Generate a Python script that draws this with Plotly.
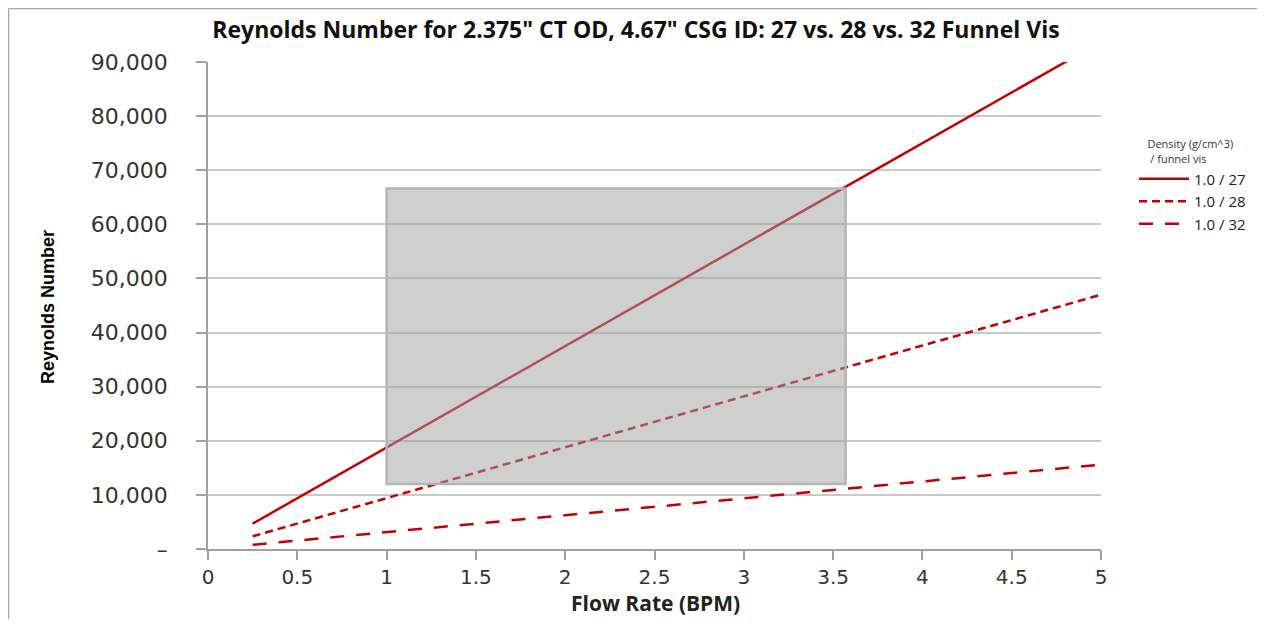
import plotly.graph_objects as go

# ---- data ----
flow_rate = [0.25, 0.5, 0.75, 1.0, 1.25, 1.5, 1.75, 2.0, 2.25, 2.5,
             2.75, 3.0, 3.25, 3.5, 3.75, 4.0, 4.25, 4.5, 4.75, 5.0]
re_27 = [4690, 9380, 14060, 18750, 23440, 28130, 32810, 37500, 42190, 46880,
         51560, 56250, 60940, 65630, 70310, 75000, 79690, 84380, 89060, 93750]
re_28 = [2350, 4700, 7050, 9400, 11750, 14100, 16450, 18800, 21150, 23500,
         25850, 28200, 30550, 32900, 35250, 37600, 39950, 42300, 44650, 47000]
re_32 = [780, 1560, 2340, 3120, 3900, 4680, 5460, 6240, 7020, 7800,
         8580, 9360, 10140, 10920, 11700, 12480, 13260, 14040, 14820, 15600]
series_names = ["1.0 / 27", "1.0 / 28", "1.0 / 32"]

box_x = [1.0, 3.57]
box_y = [12000, 66600]

y_tickvals = [0, 10000, 20000, 30000, 40000, 50000, 60000, 70000, 80000, 90000]
y_ticktext = ["–", "10,000", "20,000", "30,000", "40,000", "50,000",
              "60,000", "70,000", "80,000", "90,000"]
x_tickvals = [0, 0.5, 1, 1.5, 2, 2.5, 3, 3.5, 4, 4.5, 5]
x_ticktext = ["0", "0.5", "1", "1.5", "2", "2.5", "3", "3.5", "4", "4.5", "5"]

RED = "#C00000"
OFF = 8  # page body margin
W, H = 1265 - 2 * OFF, 627 - 2 * OFF
L, T = 208 - OFF, 62 - OFF
R = W - (1101 - OFF)
B = H - (549 - OFF)
pw, ph = W - L - R, H - T - B


def fx(p):  # page pixel x -> paper
    return (p - OFF - L) / pw


def fy(p):  # page pixel y -> paper
    return (H - B - (p - OFF)) / ph


fig = go.Figure()
dashes = ["solid", "8px,5px", "14px,12px"]
for name, ys, d in zip(series_names, [re_27, re_28, re_32], dashes):
    fig.add_trace(go.Scatter(x=flow_rate, y=ys, mode="lines", name=name,
                             line=dict(color=RED, width=2.5, dash=d)))

fig.add_shape(type="rect", xref="x", yref="y",
              x0=box_x[0], x1=box_x[1], y0=box_y[0], y1=box_y[1],
              fillcolor="rgba(160,160,160,0.5)",
              line=dict(color="#b4b4b4", width=2.5), layer="above")

# outer chart frame (top / left edges visible)
frame = dict(color="#a6a6a6", width=1.5)
fig.add_shape(type="line", xref="paper", yref="paper",
              x0=fx(8.5), x1=fx(1275), y0=fy(8.5), y1=fy(8.5), line=frame)
fig.add_shape(type="line", xref="paper", yref="paper",
              x0=fx(8.5), x1=fx(8.5), y0=fy(8.5), y1=fy(640), line=frame)

fig.add_annotation(text="<b>Reynolds Number</b>", textangle=-90, showarrow=False,
                   xref="paper", yref="paper", x=fx(48), y=fy(307),
                   xanchor="center", yanchor="middle",
                   font=dict(family="Liberation Sans Narrow, Arial Narrow, sans-serif",
                             size=18, color="#000000"))
fig.add_annotation(text="<b>Flow Rate (BPM)</b>", showarrow=False,
                   xref="paper", yref="paper", x=fx(655), y=fy(603),
                   xanchor="center", yanchor="middle",
                   font=dict(family="Open Sans, sans-serif", size=21, color="#222222"))

fig.update_layout(
    width=W, height=H,
    margin=dict(l=L, r=R, t=T, b=B, autoexpand=False),
    paper_bgcolor="white", plot_bgcolor="white",
    title=dict(text="<b>Reynolds Number for 2.375\" CT OD, 4.67\" CSG ID: 27 vs. 28 vs. 32 Funnel Vis</b>",
               x=(636 - OFF) / W, xanchor="center", y=1 - (30 - OFF) / H, yanchor="middle",
               font=dict(family="Open Sans, sans-serif", size=23, color="#111111")),
    xaxis=dict(range=[0, 5], tickvals=x_tickvals, ticktext=x_ticktext,
               showgrid=False, showline=True, linecolor="#a0a0a0", linewidth=1.5,
               ticks="outside", ticklen=9, tickcolor="#a0a0a0", tickwidth=1.5,
               tickfont=dict(family="DejaVu Sans, sans-serif", size=20, color="#333333"),
               zeroline=False),
    yaxis=dict(range=[0, 90000], tickvals=y_tickvals, ticktext=y_ticktext,
               showgrid=True, gridcolor="#c8c8c8", gridwidth=1.5,
               showline=True, linecolor="#a0a0a0", linewidth=1.5,
               ticks="outside", ticklen=10, tickcolor="#a0a0a0", tickwidth=1.5,
               ticklabelstandoff=24,
               tickfont=dict(family="DejaVu Sans, sans-serif", size=22, color="#333333"),
               zeroline=False),
    legend=dict(x=fx(1134), y=fy(134), xanchor="left", yanchor="top",
                title=dict(text="\u00a0\u00a0\u00a0\u00a0Density (g/cm^3)<br>\u00a0\u00a0\u00a0\u00a0 / funnel vis",
                           font=dict(family="Open Sans, sans-serif", size=11, color="#333333")),
                font=dict(family="Open Sans, sans-serif", size=15, color="#222222"),
                itemwidth=50, bgcolor="rgba(0,0,0,0)", tracegroupgap=0),
    showlegend=True,
)

fig.write_html("out.html")
